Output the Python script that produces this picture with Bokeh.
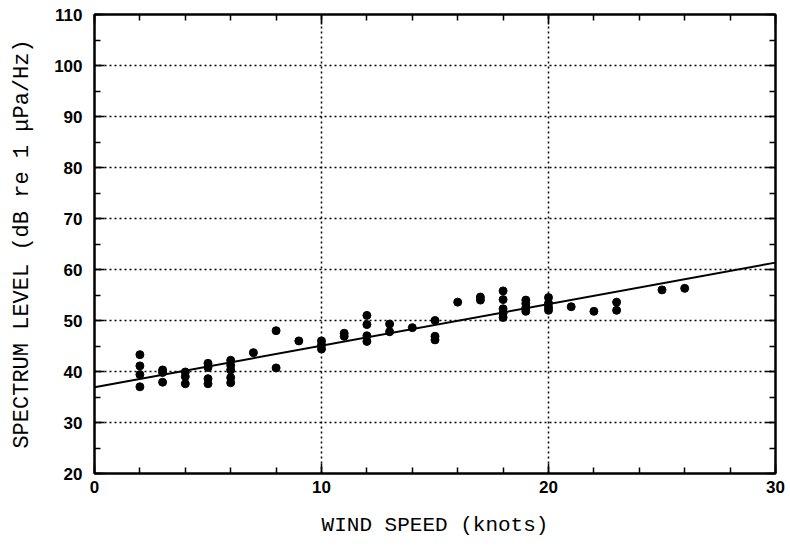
from bokeh.plotting import figure
from bokeh.models import (Range1d, SingleIntervalTicker, LinearAxis,
                          CustomJSTickFormatter)
from bokeh.embed import file_html
from bokeh.resources import INLINE

# Measured ambient-noise spectrum level versus wind speed
wind_speed = [2, 2, 2, 2,
              3, 3, 3,
              4, 4, 4,
              5, 5, 5, 5,
              6, 6, 6, 6, 6,
              7,
              8, 8,
              9,
              10, 10, 10,
              11, 11,
              12, 12, 12, 12,
              13, 13,
              14,
              15, 15, 15,
              16,
              17, 17,
              18, 18, 18, 18, 18,
              19, 19, 19, 19,
              20, 20, 20, 20,
              21,
              22,
              23, 23,
              25,
              26]
spectrum_level = [43.3, 41.1, 39.4, 37.0,
                  40.3, 39.8, 37.9,
                  39.9, 39.0, 37.6,
                  41.6, 40.8, 38.6, 37.6,
                  42.2, 41.2, 40.3, 38.8, 37.8,
                  43.7,
                  48.0, 40.7,
                  46.0,
                  46.0, 45.2, 44.4,
                  47.5, 46.9,
                  51.0, 49.2, 47.0, 45.9,
                  49.3, 47.8,
                  48.6,
                  50.0, 46.9, 46.2,
                  53.6,
                  54.6, 54.0,
                  55.8, 54.1, 52.3, 51.4, 50.6,
                  54.0, 53.3, 52.5, 51.8,
                  54.5, 53.4, 52.6, 52.0,
                  52.7,
                  51.8,
                  53.6, 52.0,
                  56.0,
                  56.3]

# Least-squares regression line: level = intercept + slope * speed
fit_intercept = 36.9
fit_slope = 0.815
fit_speed = [0, 30]
fit_level = [fit_intercept + fit_slope * s for s in fit_speed]

label_font = "Liberation Mono"
tick_font = "Liberation Sans"

p = figure(width=790, height=547, output_backend="svg", toolbar_location=None,
           x_range=Range1d(0, 30), y_range=Range1d(20, 110),
           min_border_left=94, min_border_right=15,
           min_border_top=14, min_border_bottom=74,
           background_fill_color="white", border_fill_color="white")

p.outline_line_color = "black"
p.outline_line_width = 2

x_ticker = SingleIntervalTicker(interval=10, num_minor_ticks=5)
y_ticker = SingleIntervalTicker(interval=10, num_minor_ticks=2)

p.xaxis.ticker = x_ticker
p.yaxis.ticker = y_ticker

for ax in (p.xaxis[0], p.yaxis[0]):
    ax.axis_line_color = "black"
    ax.axis_line_width = 2
    ax.major_tick_in = 10
    ax.major_tick_out = 0
    ax.minor_tick_in = 6
    ax.minor_tick_out = 0
    ax.major_tick_line_width = 1.5
    ax.minor_tick_line_width = 1.5
    ax.major_label_text_font = tick_font
    ax.major_label_text_font_style = "bold"
    ax.major_label_text_font_size = "17px"
    ax.major_label_text_color = "black"
    ax.axis_label_text_font = label_font
    ax.axis_label_text_font_style = "normal"
    ax.axis_label_text_color = "black"

p.xaxis.axis_label = "WIND SPEED (knots)"
p.yaxis.axis_label = "SPECTRUM LEVEL (dB re 1 \u03bcPa/Hz)"
p.xaxis.axis_label_text_font_size = "21px"
p.yaxis.axis_label_text_font_size = "22px"
p.xaxis.major_label_standoff = 7
p.xaxis.axis_label_standoff = 18
p.yaxis.major_label_standoff = 12
p.yaxis.axis_label_standoff = 16

# Inward ticks on the top and right edges of the frame
blank = CustomJSTickFormatter(code="return ''")
top_axis = LinearAxis(ticker=SingleIntervalTicker(interval=10, num_minor_ticks=5),
                      formatter=blank)
right_axis = LinearAxis(ticker=SingleIntervalTicker(interval=10, num_minor_ticks=2),
                        formatter=blank)
for ax in (top_axis, right_axis):
    ax.axis_line_color = "black"
    ax.axis_line_width = 2
    ax.major_tick_in = 10
    ax.major_tick_out = 0
    ax.minor_tick_in = 6
    ax.minor_tick_out = 0
    ax.major_tick_line_width = 1.5
    ax.minor_tick_line_width = 1.5
    ax.major_label_standoff = 0
    ax.major_label_text_font_size = "1px"
p.add_layout(top_axis, "above")
p.add_layout(right_axis, "right")

for g in (p.xgrid[0], p.ygrid[0]):
    g.grid_line_color = "black"
    g.grid_line_width = 1.5
    g.grid_line_dash = "2 3"
p.xgrid.ticker = x_ticker
p.ygrid.ticker = y_ticker

p.line(fit_speed, fit_level, line_color="black", line_width=2)
p.scatter(wind_speed, spectrum_level, size=8, marker="circle",
          fill_color="black", line_color="black")

open("out.html", "w").write(file_html(p, INLINE))
